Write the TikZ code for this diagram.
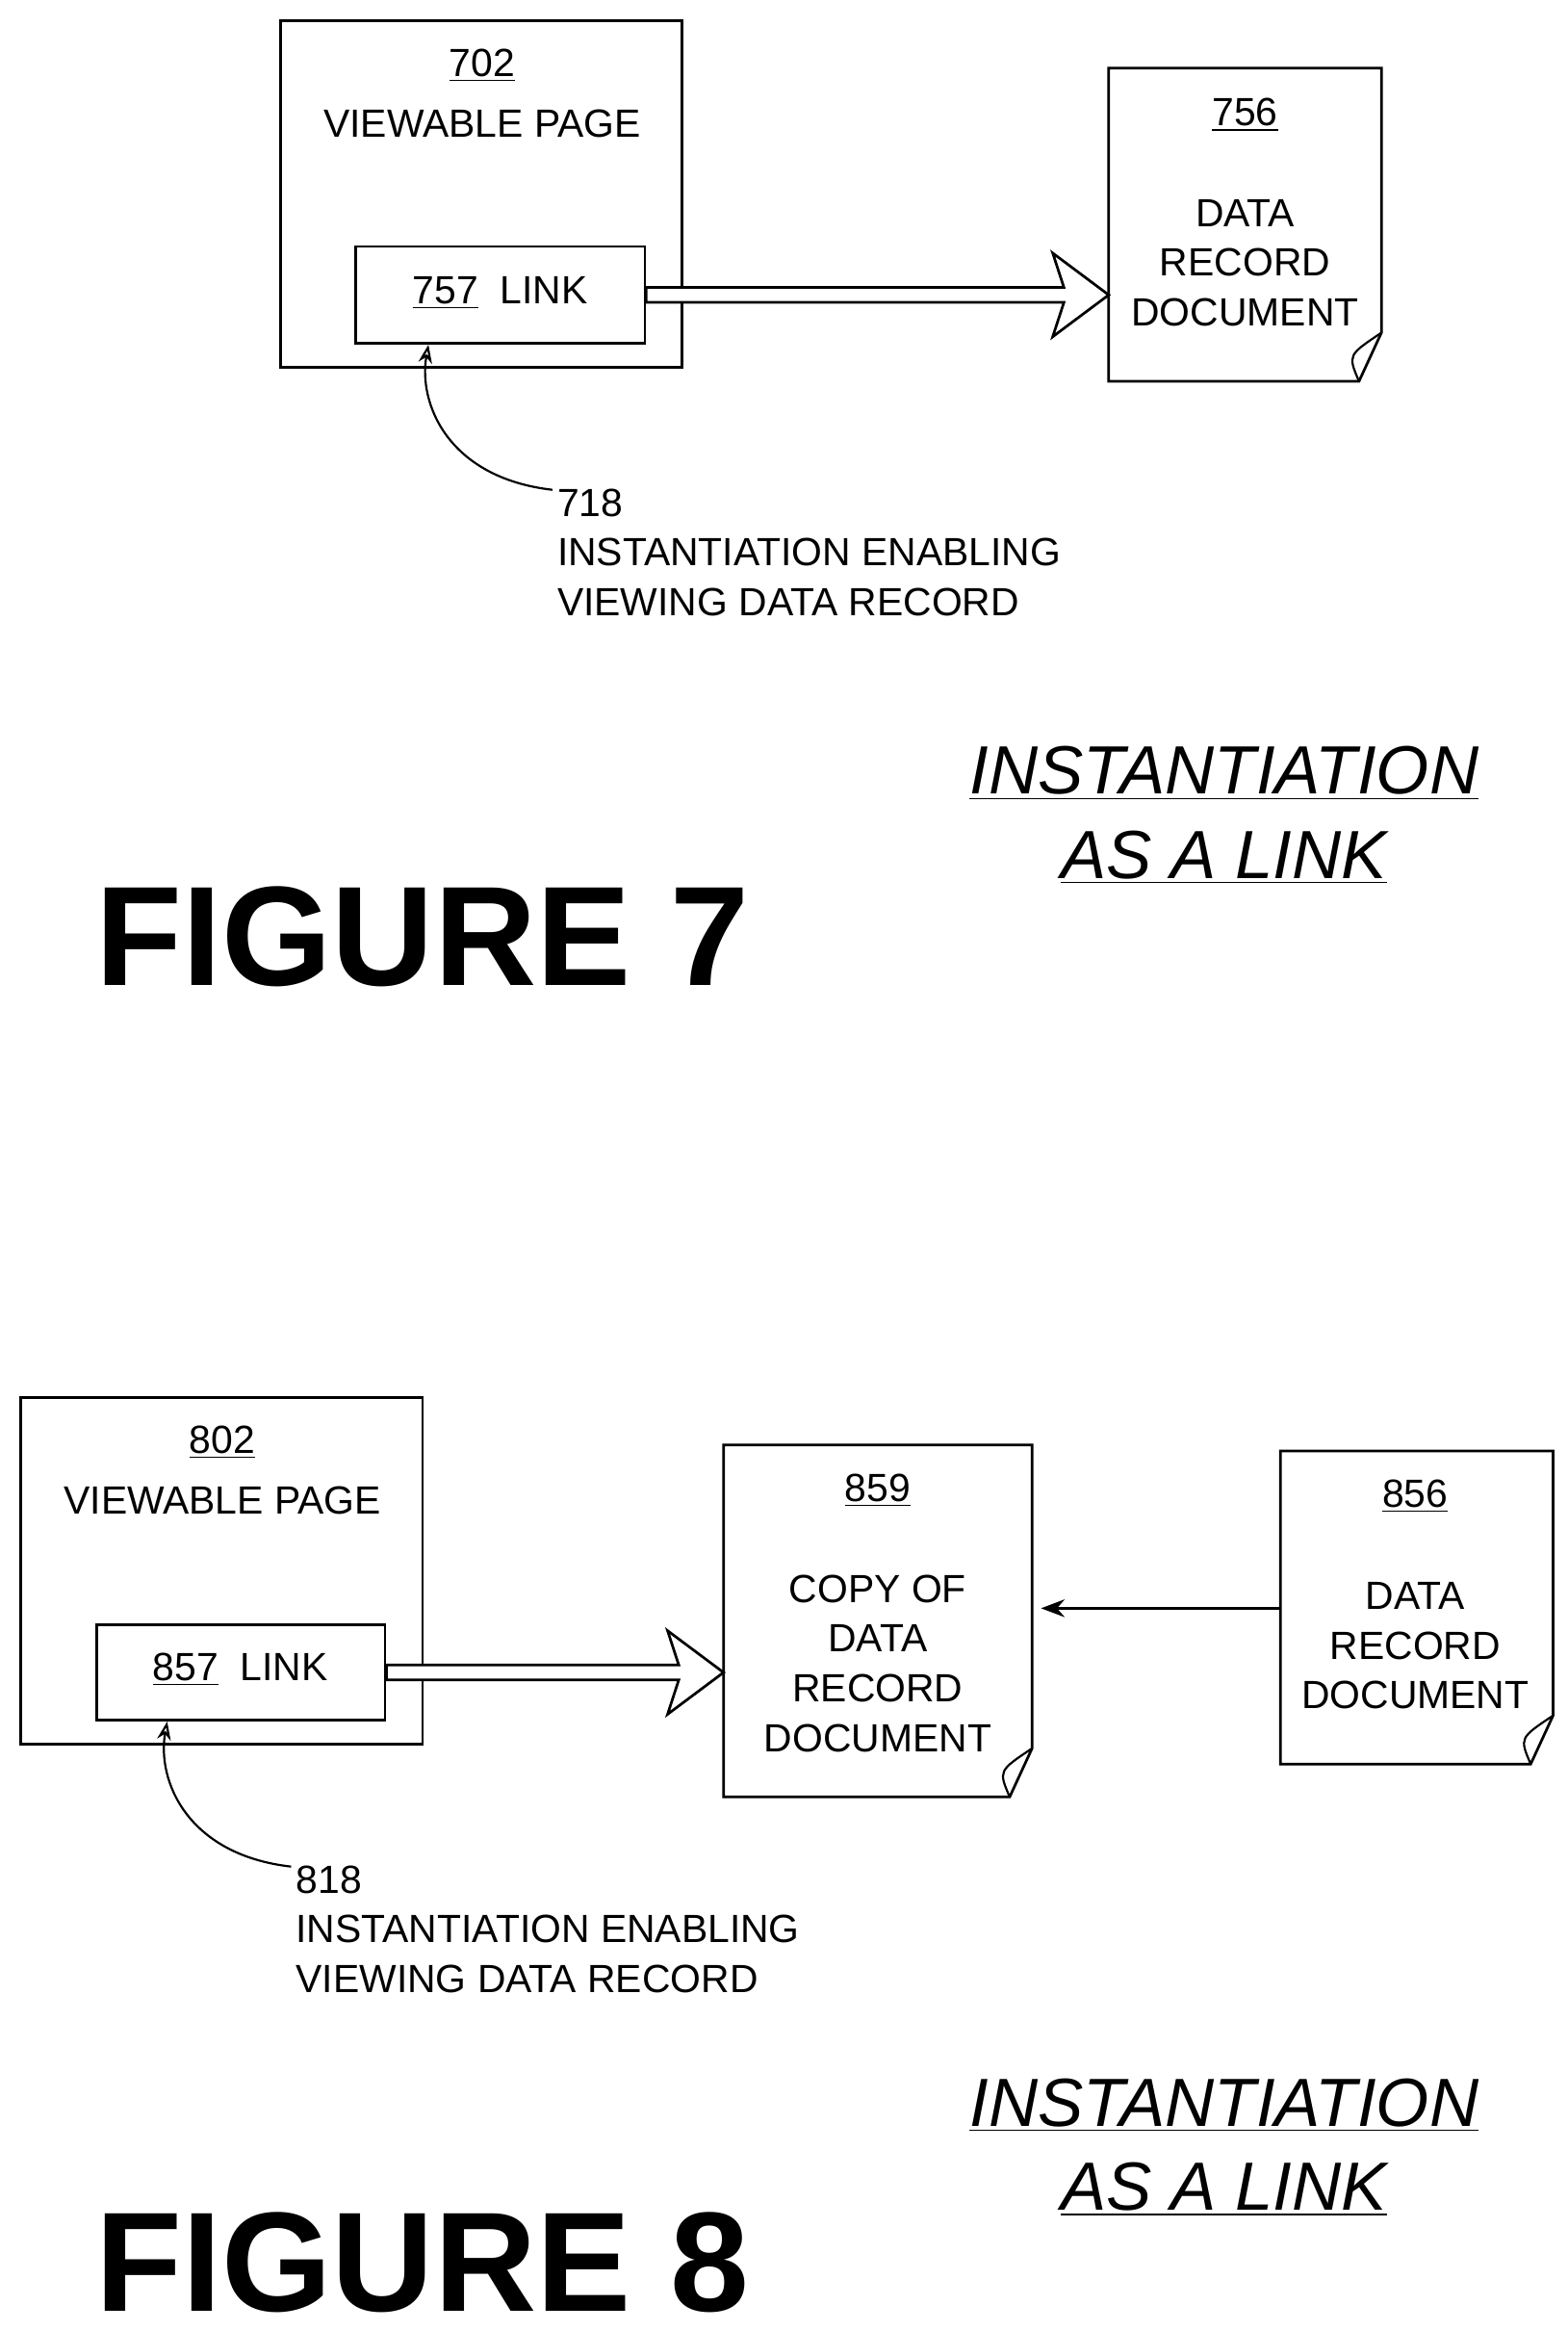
\documentclass[tikz,border=0pt]{standalone}
\usepackage{fontspec}
\setmainfont{Liberation Sans}
\usetikzlibrary{positioning}
\usetikzlibrary{calc}
\usetikzlibrary{arrows.meta}

\tikzset{
  page/.style={draw,line width=1pt,minimum width=5.38cm,minimum height=4.64cm},
  link/.style={draw,line width=1pt},
  txt/.style={font=\fontsize{15}{18}\selectfont,inner sep=0pt},
  capt/.style={font=\fontsize{26}{30}\selectfont\itshape,inner sep=0pt},
  fig/.style={font=\fontsize{54}{60}\selectfont\bfseries,inner sep=0pt},
}
\newcommand{\docshape}[1]{%
  \draw[line width=1pt] (#1.north west) -- (#1.north east) -- ($(#1.south east)+(0cm,0.65cm)$)
    -- ($(#1.south east)+(-0.3cm,0cm)$) -- (#1.south west) -- cycle;
  \draw[line width=0.8pt] ($(#1.south east)+(0cm,0.65cm)$) .. controls ($(#1.south east)+(-0.45cm,0.35cm)$) ..
    ($(#1.south east)+(-0.3cm,0cm)$);}
\newcommand{\hollow}[2]{%
  \draw[line width=1pt,fill=white] let \p1=(#1.east), \p2=(#2.west) in
    (\x1,\y1+0.1cm) -- (\x2-0.6cm,\y1+0.1cm) -- (\x2-0.75cm,\y1+0.56cm) -- (\x2,\y1)
    -- (\x2-0.75cm,\y1-0.56cm) -- (\x2-0.6cm,\y1-0.1cm) -- (\x1,\y1-0.1cm) -- cycle;}

\begin{document}
\begin{tikzpicture}[x=0.02cm,y=-0.02cm]
\useasboundingbox (0,0) rectangle (1050,1561);

% figure 7
\node[page] (p702) at (322.5,130) {};
\node[txt] at (323,44) {\underline{702}};
\node[txt] at (323,83) {VIEWABLE PAGE};
\node[link,minimum width=3.88cm,minimum height=1.3cm] (l757) at (335,197.5) {};
\node[txt] at (335,196) {\underline{757}\ \ LINK};
\node[minimum width=3.64cm,minimum height=4.18cm] (d756) at (834,150.5) {};
\docshape{d756}
\node[txt] at (834,77) {\underline{756}};
\node[txt,align=center] at (834,176) {DATA\\[1pt]RECORD\\[1pt]DOCUMENT};
\hollow{l757}{d756}
\coordinate (c718) at (370,328);
\draw[line width=0.8pt,-{Stealth[open,length=7pt]}] (c718) .. controls (300,320) and (280,270) .. (l757.south -| 287,0);
\node[txt,anchor=west,align=left] at (373,370) {718\\[1pt]INSTANTIATION ENABLING\\[1pt]VIEWING DATA RECORD};
\node[capt,align=center] at (820,546) {\underline{INSTANTIATION}\\[2pt]\underline{AS A LINK}};
\node[fig] at (283,627) {FIGURE 7};

% figure 8
\node[page] (p802) at (148.5,1052) {};
\node[txt] at (149,966) {\underline{802}};
\node[txt] at (149,1005) {VIEWABLE PAGE};
\node[link,minimum width=3.86cm,minimum height=1.28cm] (l857) at (161.5,1120) {};
\node[txt] at (161,1118) {\underline{857}\ \ LINK};
\node[minimum width=4.12cm,minimum height=4.7cm] (d859) at (588,1085.5) {};
\docshape{d859}
\node[txt] at (588,998) {\underline{859}};
\node[txt,align=center] at (588,1114) {COPY OF\\[1pt]DATA\\[1pt]RECORD\\[1pt]DOCUMENT};
\node[minimum width=3.64cm,minimum height=4.18cm] (d856) at (949,1076.5) {};
\docshape{d856}
\node[txt] at (948,1002) {\underline{856}};
\node[txt,align=center] at (948,1102) {DATA\\[1pt]RECORD\\[1pt]DOCUMENT};
\hollow{l857}{d859}
\draw[line width=1pt,-{Stealth[length=9pt]}] (d856.west |- 0,1077) -- ($(d859.east |- 0,1077)+(0.12cm,0cm)$);
\coordinate (c818) at (195,1250);
\draw[line width=0.8pt,-{Stealth[open,length=7pt]}] (c818) .. controls (125,1242) and (105,1192) .. (l857.south -| 112,0);
\node[txt,anchor=west,align=left] at (198,1292) {818\\[1pt]INSTANTIATION ENABLING\\[1pt]VIEWING DATA RECORD};
\node[capt,align=center] at (820,1438) {\underline{INSTANTIATION}\\[2pt]\underline{AS A LINK}};
\node[fig] at (283,1515) {FIGURE 8};
\end{tikzpicture}
\end{document}
